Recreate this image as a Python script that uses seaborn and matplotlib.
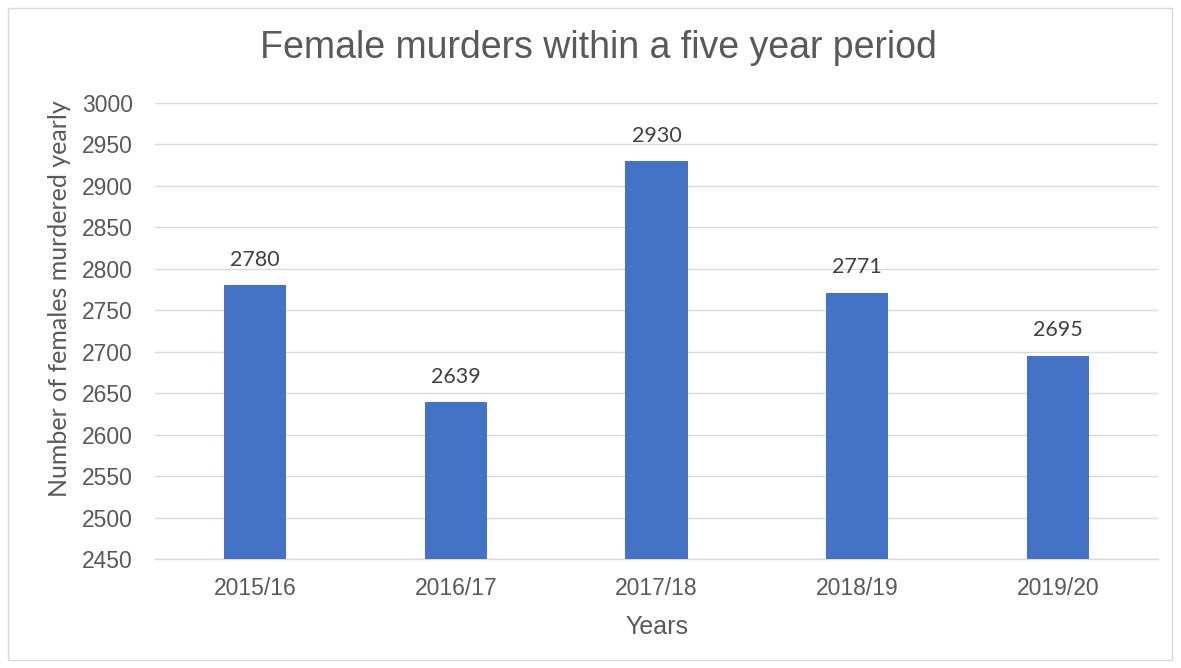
import matplotlib
matplotlib.use("Agg")
import matplotlib.pyplot as plt
import seaborn as sns
import pandas as pd
from matplotlib.patches import Rectangle

years = ["2015/16", "2016/17", "2017/18", "2018/19", "2019/20"]
murders = [2780, 2639, 2930, 2771, 2695]
yticks = list(range(2450, 3001, 50))

sns.set_theme(style="white")
plt.rcParams['font.family'] = ['Liberation Sans', 'DejaVu Sans']

df = pd.DataFrame({"Years": years, "Murders": murders})

fig = plt.figure(figsize=(11.81, 6.68), dpi=100)
ax = fig.add_axes([155/1181, 1 - 559/668, (1158-155)/1181, (559-103)/668])

sns.barplot(data=df, x="Years", y="Murders", color="#4472C4", width=0.31,
            saturation=1, linewidth=0, ax=ax, zorder=3)
ax.set_ylim(2450, 3000)
ax.set_yticks(yticks)
ax.set_xlim(-0.5, 4.5)
ax.yaxis.grid(True, color="#D9D9D9", linewidth=1, zorder=0)
ax.set_axisbelow(True)
for s in ["top", "right", "left"]:
    ax.spines[s].set_visible(False)
ax.spines["bottom"].set_color("#D9D9D9")
ax.spines["bottom"].set_linewidth(1)
ax.tick_params(axis="both", length=0, labelsize=16.5, colors="#595959")
ax.tick_params(axis="x", pad=13)
ax.tick_params(axis="y", pad=16)
ax.set_xlabel("Years", fontsize=18, color="#595959", labelpad=10.5)
ax.set_ylabel("Number of females murdered yearly", fontsize=18, color="#595959",
              family=["Lato", "DejaVu Sans"])
ax.yaxis.set_label_coords((71 - 155) / (1158 - 155), (559 - 298.5) / (559 - 103))

for i, v in enumerate(murders):
    ax.annotate(str(v), (i, v), xytext=(0, 14), textcoords="offset points",
                ha="center", va="baseline", fontsize=15.5, color="#404040",
                family=["Lato", "DejaVu Sans"])

fig.text(598/1181, 1 - 48/668, "Female murders within a five year period",
         ha="center", va="center", fontsize=27, color="#595959")

fig.patches.append(Rectangle((8/1181, 1 - 660/668), (1172-8)/1181, (660-8)/668,
                             transform=fig.transFigure, fill=False,
                             edgecolor="#D9D9D9", linewidth=1))

fig.savefig("out.png", dpi=100)
